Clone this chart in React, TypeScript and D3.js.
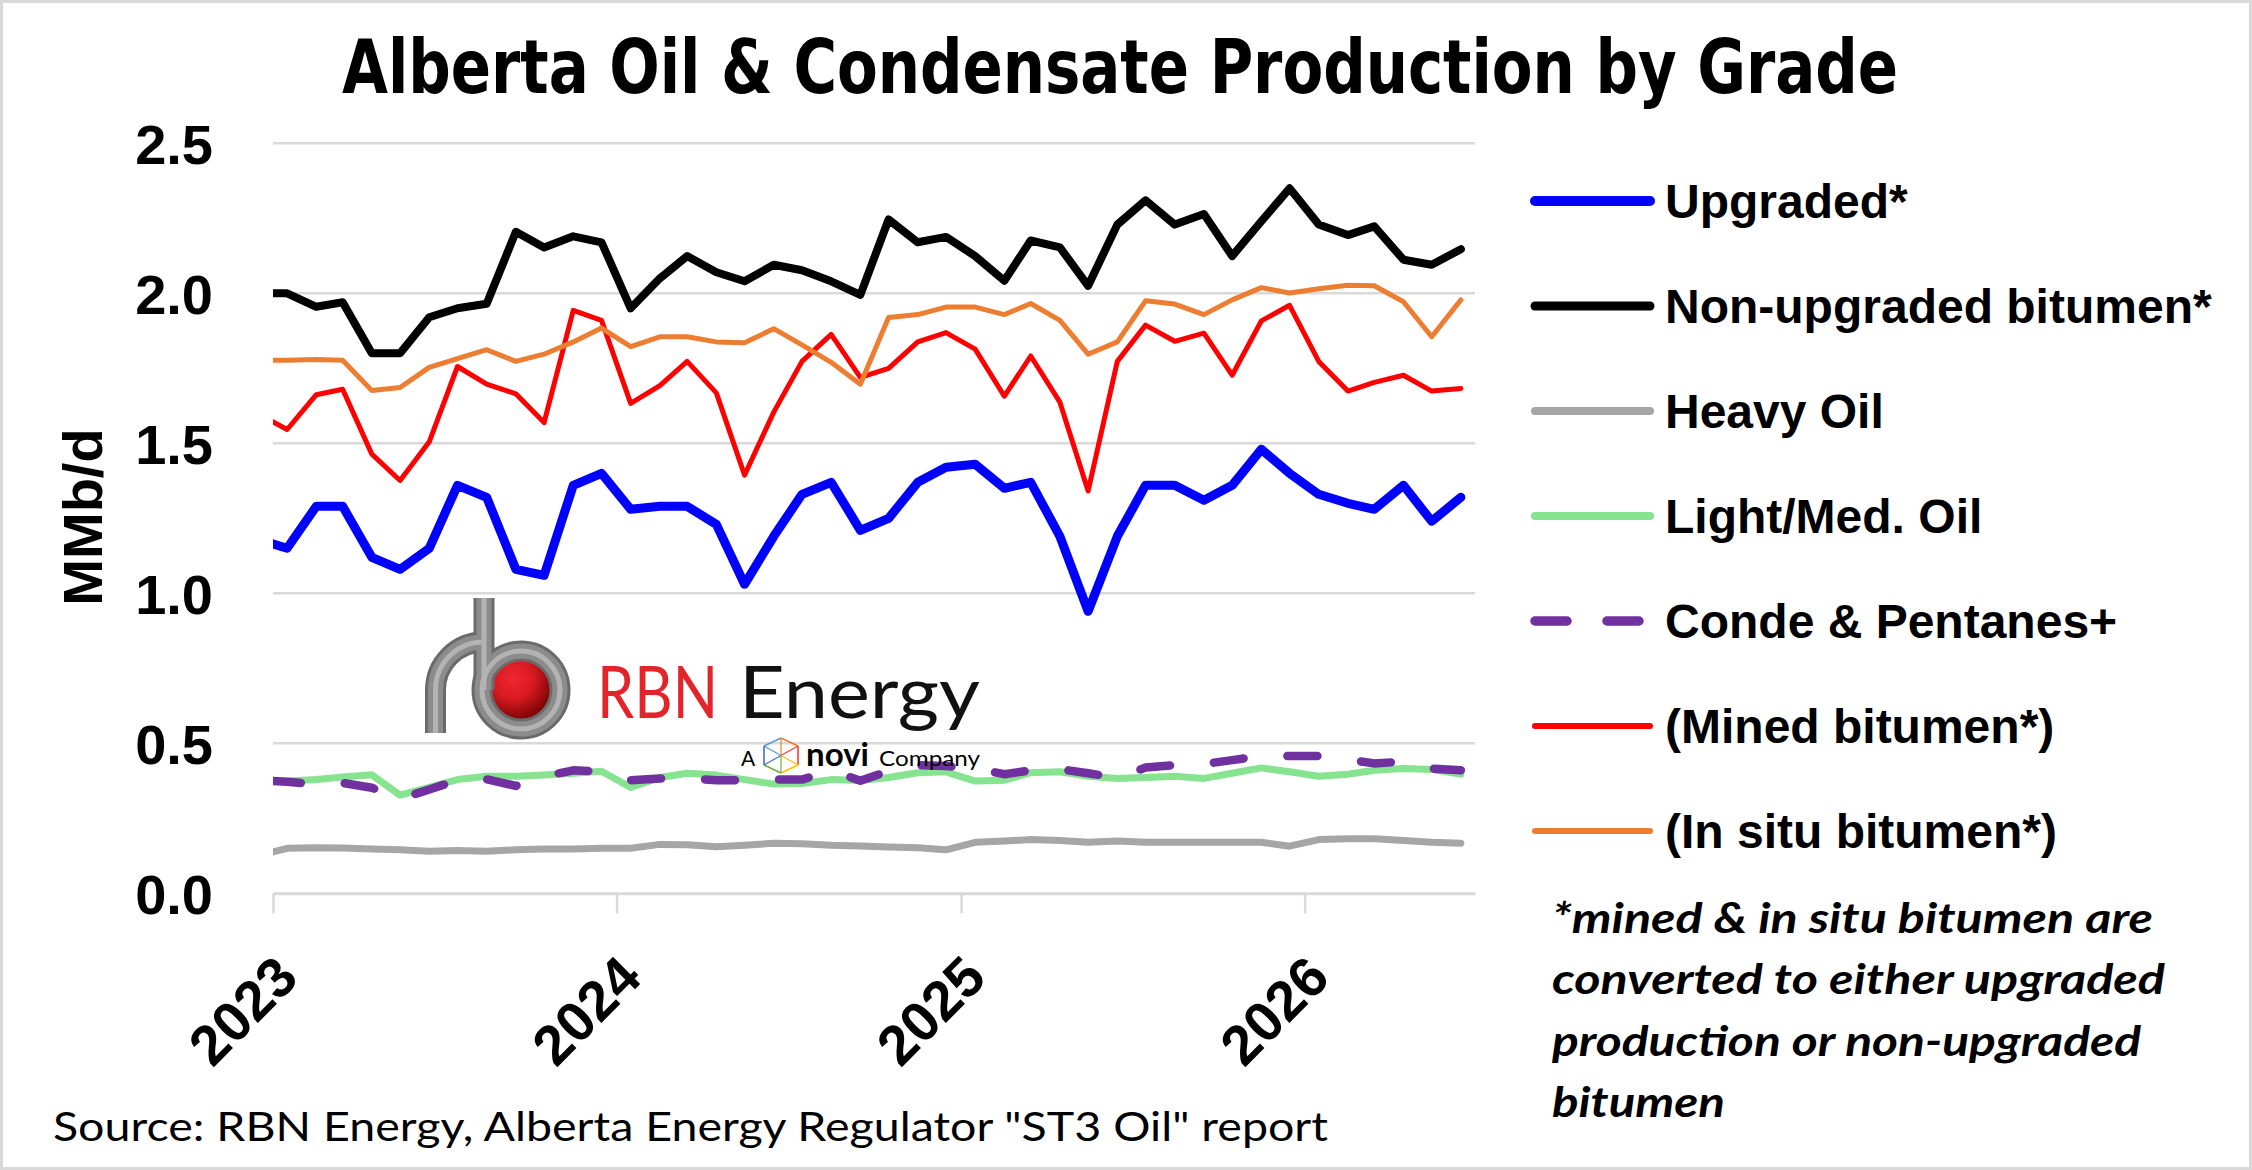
import { useEffect, useRef } from 'react';
import * as d3 from 'd3';

const WIDTH = 2252;
const HEIGHT = 1170;

// monthly points Dec 2022 .. Jun 2026 (the Dec 2022 one sits left of the axis and is clipped)
const months = d3.timeMonth.range(new Date(2022, 11, 1), new Date(2026, 6, 1));

const upgraded = [
  1.18, 1.15, 1.29, 1.29, 1.12, 1.08, 1.15, 1.36, 1.32, 1.08, 1.06, 1.36, 1.40,
  1.28, 1.29, 1.29, 1.23, 1.03, 1.19, 1.33, 1.37, 1.21, 1.25, 1.37, 1.42,
  1.43, 1.35, 1.37, 1.19, 0.94, 1.19, 1.36, 1.36, 1.31, 1.36, 1.48, 1.40,
  1.33, 1.30, 1.28, 1.36, 1.24, 1.32,
];
const nonUpgraded = [
  2.00, 2.00, 1.955, 1.97, 1.80, 1.80, 1.92, 1.95, 1.965, 2.205, 2.153, 2.19, 2.17,
  1.95, 2.05, 2.124, 2.07, 2.04, 2.095, 2.077, 2.04, 1.995, 2.246, 2.17, 2.188,
  2.124, 2.042, 2.176, 2.153, 2.025, 2.229, 2.31, 2.229, 2.264, 2.124, 2.24, 2.35,
  2.229, 2.194, 2.223, 2.112, 2.095, 2.147,
];
const heavyOil = [
  0.125, 0.15, 0.152, 0.151, 0.148, 0.145, 0.14, 0.143, 0.14, 0.145, 0.148, 0.148, 0.15,
  0.15, 0.163, 0.162, 0.155, 0.16, 0.167, 0.165, 0.16, 0.158, 0.154, 0.152, 0.145,
  0.17, 0.174, 0.179, 0.176, 0.17, 0.174, 0.17, 0.17, 0.17, 0.17, 0.17, 0.157,
  0.179, 0.182, 0.182, 0.176, 0.17, 0.167,
];
const lightMedOil = [
  0.372, 0.374, 0.379, 0.388, 0.395, 0.327, 0.353, 0.379, 0.39, 0.39, 0.394, 0.40, 0.407,
  0.353, 0.386, 0.40, 0.394, 0.379, 0.364, 0.366, 0.379, 0.376, 0.386, 0.402, 0.405,
  0.374, 0.377, 0.402, 0.405, 0.39, 0.383, 0.386, 0.39, 0.383, 0.40, 0.418, 0.405,
  0.39, 0.397, 0.41, 0.416, 0.413, 0.397,
];
const condePentanes = [
  0.377, 0.372, 0.363, 0.368, 0.352, 0.315, 0.346, 0.377, 0.38, 0.358, 0.39, 0.41, 0.405,
  0.377, 0.383, 0.383, 0.377, 0.377, 0.379, 0.379, 0.41, 0.375, 0.408, 0.427, 0.424,
  0.416, 0.397, 0.41, 0.414, 0.40, 0.385, 0.419, 0.427, 0.431, 0.444, 0.458, 0.458,
  0.458, 0.446, 0.433, 0.439, 0.416, 0.41,
];
const minedBitumen = [
  1.598, 1.546, 1.662, 1.68, 1.464, 1.376, 1.505, 1.756, 1.697, 1.665, 1.569, 1.943, 1.91,
  1.633, 1.692, 1.773, 1.668, 1.394, 1.604, 1.773, 1.863, 1.72, 1.75, 1.838, 1.869,
  1.814, 1.657, 1.791, 1.637, 1.341, 1.773, 1.894, 1.84, 1.867, 1.727, 1.908, 1.96,
  1.773, 1.674, 1.703, 1.727, 1.674, 1.683,
];
const inSituBitumen = [
  1.777, 1.777, 1.779, 1.777, 1.676, 1.686, 1.753, 1.782, 1.812, 1.773, 1.797, 1.838, 1.884,
  1.822, 1.855, 1.855, 1.838, 1.835, 1.882, 1.828, 1.77, 1.697, 1.919, 1.929, 1.954,
  1.954, 1.929, 1.966, 1.91, 1.797, 1.838, 1.975, 1.964, 1.929, 1.978, 2.019, 2.001,
  2.015, 2.027, 2.025, 1.972, 1.855, 1.978,
];

const legendLabels = [
  'Upgraded*',
  'Non-upgraded bitumen*',
  'Heavy Oil',
  'Light/Med. Oil',
  'Conde & Pentanes+',
  '(Mined bitumen*)',
  '(In situ bitumen*)',
];
const seriesValues = [upgraded, nonUpgraded, heavyOil, lightMedOil, condePentanes, minedBitumen, inSituBitumen];

const yearTicks = [2023, 2024, 2025, 2026];
const yTicks = [0, 0.5, 1.0, 1.5, 2.0, 2.5];

const noteLines = [
  '*mined & in situ bitumen are',
  'converted to either upgraded',
  'production or non-upgraded',
  'bitumen',
];

const lineStyle: Record<string, { color: string; width: number; dash?: string }> = {
  'Upgraded*': { color: '#0000ff', width: 9 },
  'Non-upgraded bitumen*': { color: '#000000', width: 8 },
  'Heavy Oil': { color: '#a6a6a6', width: 7 },
  'Light/Med. Oil': { color: '#86e38f', width: 7 },
  'Conde & Pentanes+': { color: '#7030a0', width: 8.5, dash: '30 44' },
  '(Mined bitumen*)': { color: '#ff0000', width: 5 },
  '(In situ bitumen*)': { color: '#ed7d31', width: 5 },
};

const BOLD = "'Liberation Sans', Arial, sans-serif";
const NARROW = "'Liberation Sans Narrow', 'DejaVu Sans Condensed', sans-serif";
const SOFT = "Lato, 'Open Sans', sans-serif";

export default function App() {
  const svgRef = useRef<SVGSVGElement | null>(null);

  useEffect(() => {
    if (!svgRef.current) return;
    const svg = d3.select(svgRef.current);
    svg.selectAll('*').remove();

    const margin = { left: 273, right: WIDTH - 1475, top: 143.3, bottom: HEIGHT - 893.3 };

    const x = d3.scaleTime()
      .domain([new Date(2023, 0, 1), new Date(2026, 6, 1)])
      .range([margin.left, WIDTH - margin.right]);
    const y = d3.scaleLinear()
      .domain([0, 2.5])
      .range([HEIGHT - margin.bottom, margin.top]);

    const defs = svg.append('defs');
    defs.append('clipPath').attr('id', 'plot-clip')
      .append('rect')
      .attr('x', margin.left).attr('y', 0)
      .attr('width', WIDTH - margin.left - margin.right + 6).attr('height', HEIGHT);
    const ball = defs.append('radialGradient').attr('id', 'ball')
      .attr('cx', '38%').attr('cy', '32%').attr('r', '70%');
    ball.append('stop').attr('offset', '0%').attr('stop-color', '#f2262e');
    ball.append('stop').attr('offset', '45%').attr('stop-color', '#d81a22');
    ball.append('stop').attr('offset', '100%').attr('stop-color', '#6e0000');

    svg.append('rect')
      .attr('x', 1.5).attr('y', 1.5)
      .attr('width', WIDTH - 3).attr('height', HEIGHT - 3)
      .attr('fill', '#ffffff').attr('stroke', '#d9d9d9').attr('stroke-width', 3);

    // title
    svg.append('text')
      .attr('x', 1120).attr('y', 93)
      .attr('text-anchor', 'middle')
      .attr('font-family', NARROW).attr('font-weight', 'bold').attr('font-size', 75)
      .attr('textLength', 1556).attr('lengthAdjust', 'spacingAndGlyphs')
      .text('Alberta Oil & Condensate Production by Grade');

    // gridlines
    svg.append('g')
      .selectAll('line')
      .data(yTicks.filter(v => v > 0))
      .join('line')
      .attr('x1', margin.left).attr('x2', WIDTH - margin.right)
      .attr('y1', d => y(d)).attr('y2', d => y(d))
      .attr('stroke', '#d9d9d9').attr('stroke-width', 2.5);

    // y axis labels
    const yAxis = svg.append('g')
      .attr('transform', `translate(${margin.left},0)`)
      .call(d3.axisLeft(y).tickValues(yTicks).tickSize(0).tickPadding(60).tickFormat(d3.format('.1f')));
    yAxis.select('.domain').remove();
    yAxis.selectAll('text')
      .attr('font-family', BOLD).attr('font-weight', 'bold').attr('font-size', 56)
      .attr('fill', '#000').attr('dy', '0.36em');

    svg.append('text')
      .attr('transform', `translate(102,517) rotate(-90)`)
      .attr('text-anchor', 'middle')
      .attr('font-family', BOLD).attr('font-weight', 'bold').attr('font-size', 56)
      .text('MMb/d');

    // x axis
    const xAxis = svg.append('g')
      .attr('transform', `translate(0,${y(0)})`)
      .call(d3.axisBottom(x)
        .tickValues(yearTicks.map(yr => new Date(yr, 0, 1)))
        .tickSize(20).tickSizeOuter(0)
        .tickFormat(d => d3.timeFormat('%Y')(d as Date)));
    xAxis.select('.domain').attr('stroke', '#d9d9d9').attr('stroke-width', 3);
    xAxis.selectAll('.tick line').attr('stroke', '#d9d9d9').attr('stroke-width', 2.5);
    xAxis.selectAll('.tick text')
      .attr('x', 0).attr('y', 0).attr('dy', 0)
      .attr('transform', 'translate(27,87) rotate(-45)')
      .attr('text-anchor', 'end')
      .attr('font-family', BOLD).attr('font-weight', 'bold').attr('font-size', 56)
      .attr('fill', '#000');

    // series
    const line = d3.line<number>()
      .x((_, i) => x(d3.timeDay.offset(months[i], 15)))
      .y(d => y(d));

    const plot = svg.append('g').attr('clip-path', 'url(#plot-clip)');
    legendLabels.forEach((name, k) => {
      const st = lineStyle[name];
      plot.append('path')
        .datum(seriesValues[k])
        .attr('d', line)
        .attr('fill', 'none')
        .attr('stroke', st.color)
        .attr('stroke-width', st.width)
        .attr('stroke-linejoin', 'round')
        .attr('stroke-linecap', 'round')
        .attr('stroke-dasharray', st.dash ?? null)
        .attr('stroke-dashoffset', st.dash ? -13 : null);
    });

    // legend
    const legend = svg.append('g');
    const rowY = d3.scalePoint<string>().domain(legendLabels).range([201, 831]);
    legendLabels.forEach(name => {
      const st = lineStyle[name];
      const cy = rowY(name) ?? 0;
      legend.append('line')
        .attr('x1', 1535).attr('x2', 1650).attr('y1', cy).attr('y2', cy)
        .attr('stroke', st.color)
        .attr('stroke-width', st.width + 1)
        .attr('stroke-linecap', 'round')
        .attr('stroke-dasharray', st.dash ? '32 40' : null);
      legend.append('text')
        .attr('x', 1665).attr('y', cy + 17)
        .attr('font-family', BOLD).attr('font-weight', 'bold').attr('font-size', 48)
        .text(name);
    });

    // note
    const noteWidths = [601, 613, 589, 173];
    noteLines.forEach((t, i) => {
      svg.append('text')
        .attr('x', 1552).attr('y', 933 + i * 61.3)
        .attr('font-family', SOFT).attr('font-weight', 'bold').attr('font-style', 'italic')
        .attr('font-size', 42)
        .attr('textLength', noteWidths[i]).attr('lengthAdjust', 'spacingAndGlyphs')
        .text(t);
    });

    // source
    svg.append('text')
      .attr('x', 53).attr('y', 1141)
      .attr('font-family', SOFT).attr('font-size', 41)
      .attr('textLength', 1275).attr('lengthAdjust', 'spacingAndGlyphs')
      .text('Source: RBN Energy, Alberta Energy Regulator "ST3 Oil" report');

    // RBN logo
    const logo = svg.append('g');
    logo.append('circle').attr('cx', 521).attr('cy', 690).attr('r', 32).attr('fill', 'url(#ball)');
    const pipe = 'M 435.5 733 L 435.5 690 A 48 48 0 0 1 483.5 642';
    [['#6a6a6a', 21], ['#8c8c8c', 15], ['#b3b3b3', 5]].forEach(([c, w]) => {
      logo.append('path').attr('d', pipe).attr('fill', 'none')
        .attr('stroke', c as string).attr('stroke-width', w as number);
      logo.append('circle').attr('cx', 521).attr('cy', 690).attr('r', 39).attr('fill', 'none')
        .attr('stroke', c as string).attr('stroke-width', w as number);
      logo.append('line').attr('x1', 484).attr('x2', 484).attr('y1', 598).attr('y2', 690)
        .attr('stroke', c as string).attr('stroke-width', w as number);
    });
    logo.append('text')
      .attr('x', 597).attr('y', 718)
      .attr('font-family', SOFT).attr('font-size', 72)
      .attr('fill', '#e3242b')
      .attr('textLength', 121).attr('lengthAdjust', 'spacingAndGlyphs')
      .text('RBN');
    logo.append('text')
      .attr('x', 739).attr('y', 718)
      .attr('font-family', SOFT).attr('font-size', 72)
      .attr('fill', '#111111')
      .attr('textLength', 241).attr('lengthAdjust', 'spacingAndGlyphs')
      .text('Energy');
    logo.append('text')
      .attr('x', 741).attr('y', 766)
      .attr('font-family', SOFT).attr('font-size', 21)
      .text('A');
    const hex: [number, number][] = [[764, 746], [781, 738], [798, 746], [798, 765], [781, 773], [764, 765]];
    const hexColors = ['#5b9bd5', '#ed7d31', '#ff3b30', '#ffc000', '#70ad47', '#4472c4'];
    hex.forEach((p, i) => {
      const q = hex[(i + 1) % hex.length];
      logo.append('line')
        .attr('x1', p[0]).attr('y1', p[1]).attr('x2', q[0]).attr('y2', q[1])
        .attr('stroke', hexColors[i]).attr('stroke-width', 1.6);
      logo.append('line')
        .attr('x1', p[0]).attr('y1', p[1]).attr('x2', 781).attr('y2', 755.5)
        .attr('stroke', hexColors[i]).attr('stroke-width', 1.2);
    });
    logo.append('text')
      .attr('x', 806).attr('y', 766)
      .attr('font-family', SOFT).attr('font-weight', 'bold').attr('font-size', 32)
      .attr('textLength', 63).attr('lengthAdjust', 'spacingAndGlyphs')
      .text('novi');
    logo.append('text')
      .attr('x', 879).attr('y', 766)
      .attr('font-family', SOFT).attr('font-size', 21)
      .attr('textLength', 101).attr('lengthAdjust', 'spacingAndGlyphs')
      .text('Company');
  }, []);

  return (
    <div style={{ position: 'absolute', left: 0, top: 0 }}>
      <svg ref={svgRef} width={WIDTH} height={HEIGHT} style={{ display: 'block' }} />
    </div>
  );
}
